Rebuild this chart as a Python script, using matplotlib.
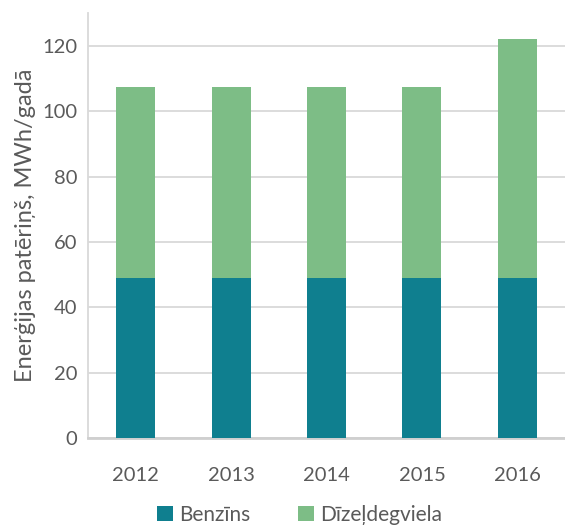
import numpy as np
import matplotlib.pyplot as plt

years = ['2012', '2013', '2014', '2015', '2016']
benzins = [49, 49, 49, 49, 49]
dizelis = [58.5, 58.5, 58.5, 58.5, 73]

c_benz = '#0f7f8f'
c_diz = '#7dbd86'
txt = '#5a5a5a'

plt.rcParams['font.family'] = ['Lato', 'DejaVu Sans']

fig = plt.figure(figsize=(5.65, 5.28), dpi=100)
ax = fig.add_axes([0.156, 0.17, 0.844, 0.805])

x = np.arange(len(years))
ax.bar(x, benzins, width=0.41, color=c_benz, label='Benzīns', zorder=3)
ax.bar(x, dizelis, width=0.41, bottom=benzins, color=c_diz, label='Dīzeļdegviela', zorder=3)

ax.set_xlim(-0.5, 4.5)
ax.set_ylim(0, 130)
ax.set_yticks(np.arange(0, 121, 20))
ax.set_xticks(x)
ax.set_xticklabels(years)
ax.yaxis.grid(True, color='#d9d9d9', linewidth=1.3, zorder=0)

for s in ['top', 'right']:
    ax.spines[s].set_visible(False)
ax.spines['left'].set_color('#d9d9d9')
ax.spines['left'].set_linewidth(1.3)
ax.spines['bottom'].set_color('#cfcfcf')
ax.spines['bottom'].set_linewidth(2)
ax.tick_params(axis='both', length=0, labelsize=14.5, labelcolor=txt)
ax.tick_params(axis='y', pad=8)
ax.tick_params(axis='x', pad=21)

ax.set_ylabel('Enerģijas patēriņš, MWh/gadā', fontsize=17, color=txt, labelpad=4)

fig.legend(loc='lower center', bbox_to_anchor=(0.53, -0.03), ncol=2, frameon=False,
           fontsize=15, labelcolor=txt, handlelength=0.75, handleheight=0.75,
           handletextpad=0.3, columnspacing=2.3)

fig.savefig('out.png', dpi=100)
